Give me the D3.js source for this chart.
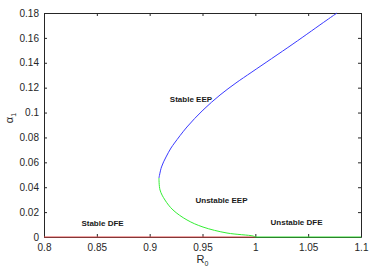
<!DOCTYPE html>
<html>
<head>
<meta charset="utf-8">
<script src="https://cdn.jsdelivr.net/npm/d3@7"></script>
<style>
  body { margin: 0; background: #fff; }
  text { font-family: "Liberation Sans", Arial, sans-serif; }
</style>
</head>
<body>
<div id="chart"></div>
<script>
// values
var stableR0 = [0.9088, 0.9112, 0.9155, 0.9202, 0.9235, 0.9353, 0.9505, 0.9666, 0.9817, 0.9968, 1.0356, 1.0678, 1.0773];
var stableA  = [0.0474, 0.0563, 0.0643, 0.0715, 0.0755, 0.0884, 0.1020, 0.1141, 0.1238, 0.1326, 0.1551, 0.1744, 0.18];
var unstableR0 = [0.9088, 0.9098, 0.9145, 0.9221, 0.9353, 0.9505, 0.9732, 0.9978, 1.0];
var unstableA  = [0.0474, 0.0378, 0.0297, 0.0217, 0.0137, 0.0080, 0.0032, 0.0008, 0];
var dfeStable = [[0.8, 0], [1.0, 0]];
var dfeUnstable = [[1.0, 0], [1.1, 0]];
var xTicks = [0.8, 0.85, 0.9, 0.95, 1, 1.05, 1.1];
var yTicks = [0, 0.02, 0.04, 0.06, 0.08, 0.1, 0.12, 0.14, 0.16, 0.18];
var labels = [
  {text: "Stable EEP", r: 0.9391, a: 0.1085},
  {text: "Unstable EEP", r: 0.968, a: 0.0273},
  {text: "Stable DFE", r: 0.8554, a: 0.0092},
  {text: "Unstable DFE", r: 1.039, a: 0.0096}
];

var svgWidth = 376, svgHeight = 275;
var margin = {top: 13, right: 15, bottom: 38, left: 44};
var width = svgWidth - margin.left - margin.right;
var height = svgHeight - margin.top - margin.bottom;

var svg = d3.select("#chart").append("svg")
  .attr("width", svgWidth)
  .attr("height", svgHeight);

var g = svg.append("g")
  .attr("transform", `translate(${margin.left}, ${margin.top})`);

var x = d3.scaleLinear().domain([0.8, 1.1]).range([0, width]);
var y = d3.scaleLinear().domain([0, 0.18]).range([height, 0]);

var axisColor = "#262626";
var fmt = d => d === 0 ? "0" : String(d);

// axes with inward ticks, mirrored on top/right
var axBottom = g.append("g").attr("transform", `translate(0, ${height})`)
  .call(d3.axisBottom(x).tickValues(xTicks).tickFormat(fmt).tickSizeInner(-3).tickSizeOuter(0).tickPadding(7));
var axTop = g.append("g")
  .call(d3.axisTop(x).tickValues(xTicks).tickFormat("").tickSizeInner(-3).tickSizeOuter(0));
var axLeft = g.append("g")
  .call(d3.axisLeft(y).tickValues(yTicks).tickFormat(fmt).tickSizeInner(-3).tickSizeOuter(0).tickPadding(5));
var axRight = g.append("g").attr("transform", `translate(${width}, 0)`)
  .call(d3.axisRight(y).tickValues(yTicks).tickFormat("").tickSizeInner(-3).tickSizeOuter(0));

[axBottom, axTop, axLeft, axRight].forEach(function(a) {
  a.selectAll("path, line").attr("stroke", axisColor);
  a.selectAll("text").attr("fill", axisColor).attr("font-size", "10px")
    .attr("font-family", "Liberation Sans, Arial, sans-serif");
});

var line = d3.line().x(d => x(d[0])).y(d => y(d[1])).curve(d3.curveCatmullRom);

g.append("path").datum(dfeStable).attr("d", line)
  .attr("fill", "none").attr("stroke", "#e04a4a").attr("stroke-width", 1.2);
g.append("path").datum(dfeUnstable).attr("d", line)
  .attr("fill", "none").attr("stroke", "#33dd33").attr("stroke-width", 1.2);
g.append("path").datum(d3.zip(unstableR0, unstableA)).attr("d", line)
  .attr("fill", "none").attr("stroke", "#33ee33").attr("stroke-width", 1);
g.append("path").datum(d3.zip(stableR0, stableA)).attr("d", line)
  .attr("fill", "none").attr("stroke", "#3a3aff").attr("stroke-width", 1);

// region labels
g.selectAll(".lbl").data(labels).enter().append("text")
  .attr("x", d => x(d.r))
  .attr("y", d => y(d.a))
  .attr("text-anchor", "middle")
  .attr("font-size", "8px")
  .attr("font-weight", "bold")
  .attr("fill", "#1a1a1a")
  .text(d => d.text);

// axis titles
var xl = g.append("text")
  .attr("x", width / 2)
  .attr("y", height + 26)
  .attr("text-anchor", "middle")
  .attr("font-size", "11px")
  .attr("fill", axisColor);
xl.append("tspan").text("R");
xl.append("tspan").attr("font-size", "7px").attr("dy", 3).text("0");

var yl = g.append("text")
  .attr("transform", `translate(${-31}, ${height / 2 - 7}) rotate(-90)`)
  .attr("text-anchor", "middle")
  .attr("font-size", "11px")
  .attr("fill", axisColor);
yl.append("tspan").text("α");
yl.append("tspan").attr("font-size", "7px").attr("dy", 3).text("1");
</script>
</body>
</html>
